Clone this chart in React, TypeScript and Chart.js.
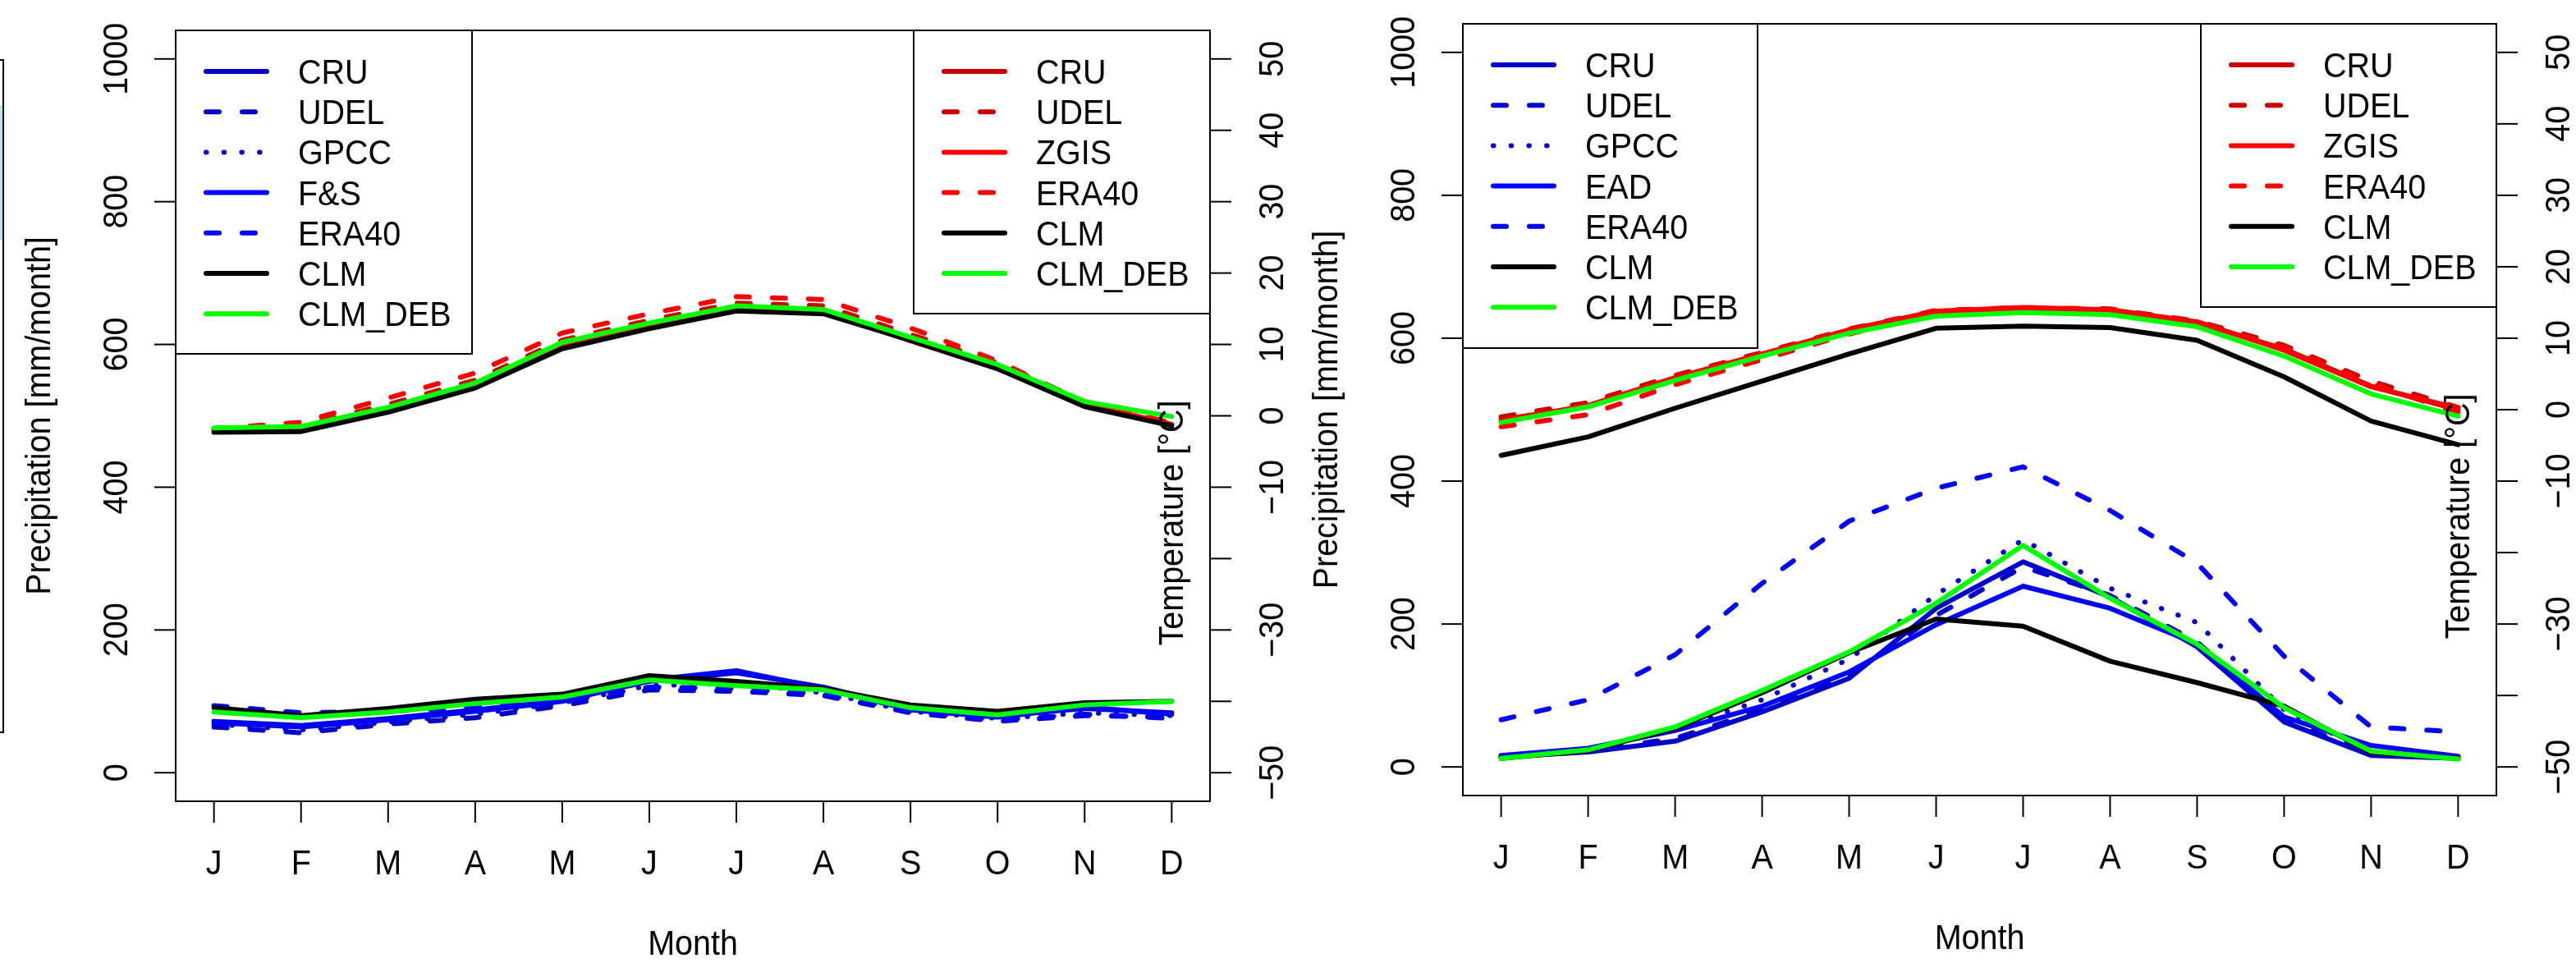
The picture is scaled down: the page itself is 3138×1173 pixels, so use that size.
import { useEffect, useRef } from 'react';
import { Chart, registerables } from 'chart.js';

Chart.register(...registerables);

// ---------- data ----------
const MONTHS = ['J', 'F', 'M', 'A', 'M', 'J', 'J', 'A', 'S', 'O', 'N', 'D'];
const PRECIP_TICKS = [0, 200, 400, 600, 800, 1000];
const PRECIP_TICK_LABELS = ['0', '200', '400', '600', '800', '1000'];
const TEMP_TICKS = [-50, -40, -30, -20, -10, 0, 10, 20, 30, 40, 50];
const TEMP_TICK_LABELS = ['\u221250', '', '\u221230', '', '\u221210', '0', '10', '20', '30', '40', '50'];

// Left panel: precipitation [mm/month]
const A_PRECIP_CRU = [72, 66, 76, 88, 101, 128, 140, 120, 90, 80, 90, 84];
const A_PRECIP_UDEL = [64, 56, 68, 77, 94, 116, 114, 108, 84, 72, 80, 78];
const A_PRECIP_GPCC = [68, 60, 71, 82, 98, 122, 125, 112, 86, 76, 84, 80];
const A_PRECIP_FS = [70, 64, 74, 86, 100, 130, 143, 118, 88, 78, 92, 82];
const A_PRECIP_ERA40 = [94, 84, 86, 92, 100, 120, 118, 110, 86, 74, 82, 76];
const A_PRECIP_CLM = [91, 80, 90, 103, 110, 136, 128, 118, 95, 86, 98, 100];
const A_PRECIP_CLM_DEB = [85, 77, 85, 97, 106, 130, 122, 116, 91, 81, 95, 100];

// Left panel: temperature [°C]
const A_TEMP_CRU = [-2.0, -1.8, 0.8, 4.2, 9.8, 12.6, 15.1, 14.6, 10.5, 6.6, 1.5, -1.3];
const A_TEMP_UDEL = [-1.8, -1.4, 1.6, 5.0, 10.6, 13.4, 15.8, 15.4, 11.4, 7.4, 2.0, -1.0];
const A_TEMP_ZGIS = [-1.9, -1.6, 1.0, 4.4, 10.0, 12.8, 15.2, 14.7, 10.7, 6.9, 1.7, -1.2];
const A_TEMP_ERA40 = [-1.8, -0.9, 2.5, 6.0, 11.6, 14.3, 16.7, 16.3, 12.3, 7.7, 1.8, -1.0];
const A_TEMP_CLM = [-2.3, -2.2, 0.5, 3.9, 9.4, 12.2, 14.7, 14.3, 10.6, 6.6, 1.3, -1.4];
const A_TEMP_CLM_DEB = [-1.7, -1.5, 1.2, 4.6, 10.3, 13.0, 15.4, 14.9, 11.0, 7.2, 2.0, -0.1];

// Right panel: precipitation [mm/month]
const B_PRECIP_CRU = [14, 21, 36, 77, 124, 222, 287, 238, 168, 63, 16, 12];
const B_PRECIP_UDEL = [15, 22, 40, 80, 128, 212, 280, 240, 175, 66, 18, 13];
const B_PRECIP_GPCC = [14, 25, 52, 94, 151, 241, 318, 250, 202, 80, 20, 12];
const B_PRECIP_EAD = [16, 26, 51, 85, 133, 199, 253, 222, 172, 70, 30, 15];
const B_PRECIP_ERA40 = [66, 94, 157, 257, 344, 390, 420, 359, 285, 155, 56, 49];
const B_PRECIP_CLM = [12, 23, 54, 104, 160, 207, 197, 148, 118, 85, 20, 12];
const B_PRECIP_CLM_DEB = [12, 24, 56, 107, 161, 229, 310, 236, 172, 83, 22, 11];

// Right panel: temperature [°C]
const B_TEMP_CRU = [-1.4, 0.5, 4.3, 7.5, 11.0, 13.7, 14.1, 13.9, 12.2, 8.5, 3.3, 0.0];
const B_TEMP_UDEL = [-1.0, 1.0, 4.8, 8.0, 11.3, 13.9, 14.3, 14.1, 12.4, 9.0, 4.0, 0.3];
const B_TEMP_ZGIS = [-1.6, 0.6, 4.5, 7.8, 11.2, 13.8, 14.3, 14.0, 12.3, 8.3, 3.2, 0.2];
const B_TEMP_ERA40 = [-2.4, -0.7, 3.5, 7.0, 10.6, 13.5, 14.0, 13.7, 12.0, 8.8, 3.6, -0.4];
const B_TEMP_CLM = [-6.4, -3.8, 0.2, 4.0, 7.8, 11.4, 11.7, 11.5, 9.7, 4.6, -1.6, -4.9];
const B_TEMP_CLM_DEB = [-1.8, 0.4, 4.1, 7.5, 10.7, 13.1, 13.6, 13.3, 11.6, 7.5, 2.2, -0.9];

// ---------- styles ----------
const MEDBLUE = '#0000CD';
const BLUE = '#0000FF';
const RED3 = '#CD0000';
const RED = '#FF0000';
const BLACK = '#000000';
const GREEN = '#00FF00';
const SOLID: number[] = [];
const DASH = [16, 28];
const DOT = [0.5, 21.2];
const LW = 6;
const FONT = '"Liberation Sans", Arial, Helvetica, sans-serif';
const FS = 42;
const SX = 0.94;

type Series = { label: string; values: number[]; color: string; dash: number[] };

type Panel = {
  canvasLeft: number;
  pad: { left: number; right: number; top: number; bottom: number };
  precip: Series[];
  temp: Series[];
  precipLegend: { left: number; top: number; w: number; h: number };
  tempLegend: { left: number; top: number; w: number; h: number };
  fragment: boolean;
};

const W = 1569;
const H = 1173;

const PANELS: Panel[] = [
  {
    canvasLeft: 0,
    pad: { left: 214, right: W - 1474, top: 37, bottom: H - 976 },
    precip: [
      { label: 'CRU', values: A_PRECIP_CRU, color: MEDBLUE, dash: SOLID },
      { label: 'UDEL', values: A_PRECIP_UDEL, color: MEDBLUE, dash: DASH },
      { label: 'GPCC', values: A_PRECIP_GPCC, color: MEDBLUE, dash: DOT },
      { label: 'F&S', values: A_PRECIP_FS, color: BLUE, dash: SOLID },
      { label: 'ERA40', values: A_PRECIP_ERA40, color: BLUE, dash: DASH },
      { label: 'CLM', values: A_PRECIP_CLM, color: BLACK, dash: SOLID },
      { label: 'CLM_DEB', values: A_PRECIP_CLM_DEB, color: GREEN, dash: SOLID },
    ],
    temp: [
      { label: 'CRU', values: A_TEMP_CRU, color: RED3, dash: SOLID },
      { label: 'UDEL', values: A_TEMP_UDEL, color: RED3, dash: DASH },
      { label: 'ZGIS', values: A_TEMP_ZGIS, color: RED, dash: SOLID },
      { label: 'ERA40', values: A_TEMP_ERA40, color: RED, dash: DASH },
      { label: 'CLM', values: A_TEMP_CLM, color: BLACK, dash: SOLID },
      { label: 'CLM_DEB', values: A_TEMP_CLM_DEB, color: GREEN, dash: SOLID },
    ],
    precipLegend: { left: 214, top: 37, w: 361, h: 394 },
    tempLegend: { left: 1113, top: 37, w: 361, h: 345 },
    fragment: true,
  },
  {
    canvasLeft: 1569,
    pad: { left: 213, right: W - 1472, top: 29, bottom: H - 969 },
    precip: [
      { label: 'CRU', values: B_PRECIP_CRU, color: MEDBLUE, dash: SOLID },
      { label: 'UDEL', values: B_PRECIP_UDEL, color: MEDBLUE, dash: DASH },
      { label: 'GPCC', values: B_PRECIP_GPCC, color: MEDBLUE, dash: DOT },
      { label: 'EAD', values: B_PRECIP_EAD, color: BLUE, dash: SOLID },
      { label: 'ERA40', values: B_PRECIP_ERA40, color: BLUE, dash: DASH },
      { label: 'CLM', values: B_PRECIP_CLM, color: BLACK, dash: SOLID },
      { label: 'CLM_DEB', values: B_PRECIP_CLM_DEB, color: GREEN, dash: SOLID },
    ],
    temp: [
      { label: 'CRU', values: B_TEMP_CRU, color: RED3, dash: SOLID },
      { label: 'UDEL', values: B_TEMP_UDEL, color: RED3, dash: DASH },
      { label: 'ZGIS', values: B_TEMP_ZGIS, color: RED, dash: SOLID },
      { label: 'ERA40', values: B_TEMP_ERA40, color: RED, dash: DASH },
      { label: 'CLM', values: B_TEMP_CLM, color: BLACK, dash: SOLID },
      { label: 'CLM_DEB', values: B_TEMP_CLM_DEB, color: GREEN, dash: SOLID },
    ],
    precipLegend: { left: 213, top: 29, w: 359, h: 395 },
    tempLegend: { left: 1112, top: 29, w: 360, h: 345 },
    fragment: false,
  },
];

function drawText(
  ctx: CanvasRenderingContext2D,
  s: string,
  x: number,
  y: number,
  rot = 0,
  align: CanvasTextAlign = 'center',
  size = FS,
) {
  ctx.save();
  ctx.translate(x, y);
  if (rot) ctx.rotate(rot);
  ctx.scale(SX, 1);
  ctx.font = `${size}px ${FONT}`;
  ctx.textAlign = align;
  ctx.textBaseline = 'alphabetic';
  ctx.fillStyle = '#000';
  ctx.fillText(s, 0, size * 0.358);
  ctx.restore();
}

function drawLegend(
  ctx: CanvasRenderingContext2D,
  box: { left: number; top: number; w: number; h: number },
  items: Series[],
) {
  ctx.save();
  ctx.fillStyle = '#fff';
  ctx.fillRect(box.left, box.top, box.w, box.h);
  ctx.strokeStyle = '#000';
  ctx.lineWidth = 2;
  ctx.setLineDash([]);
  ctx.strokeRect(box.left, box.top, box.w, box.h);
  items.forEach((it, k) => {
    const y = box.top + 50 + 49.2 * k;
    ctx.beginPath();
    ctx.strokeStyle = it.color;
    ctx.lineWidth = LW;
    ctx.lineCap = 'round';
    ctx.setLineDash(it.dash);
    ctx.moveTo(box.left + 37, y);
    ctx.lineTo(box.left + 111, y);
    ctx.stroke();
    ctx.setLineDash([]);
    drawText(ctx, it.label, box.left + 149, y, 0, 'left');
  });
  ctx.restore();
}

function makeFramePlugin(p: Panel) {
  return {
    id: 'rframe',
    afterDraw(chart: any) {
      const ctx: CanvasRenderingContext2D = chart.ctx;
      const a = chart.chartArea;
      const xs = chart.scales.x;
      const ys = chart.scales.y;
      const y2 = chart.scales.y2;
      ctx.save();
      ctx.strokeStyle = '#000';
      ctx.lineWidth = 2;
      ctx.setLineDash([]);
      ctx.lineCap = 'butt';
      // box
      ctx.strokeRect(a.left, a.top, a.right - a.left, a.bottom - a.top);
      // x ticks
      MONTHS.forEach((m, i) => {
        const x = xs.getPixelForValue(i);
        ctx.beginPath();
        ctx.moveTo(x, a.bottom);
        ctx.lineTo(x, a.bottom + 26);
        ctx.stroke();
        drawText(ctx, m, x, a.bottom + 74);
      });
      // left ticks
      PRECIP_TICKS.forEach((v, i) => {
        const y = ys.getPixelForValue(v);
        ctx.beginPath();
        ctx.moveTo(a.left - 26, y);
        ctx.lineTo(a.left, y);
        ctx.stroke();
        drawText(ctx, PRECIP_TICK_LABELS[i], a.left - 74, y, -Math.PI / 2);
      });
      // right ticks
      TEMP_TICKS.forEach((v, i) => {
        const y = y2.getPixelForValue(v);
        ctx.beginPath();
        ctx.moveTo(a.right, y);
        ctx.lineTo(a.right + 26, y);
        ctx.stroke();
        if (TEMP_TICK_LABELS[i]) drawText(ctx, TEMP_TICK_LABELS[i], a.right + 74, y, -Math.PI / 2);
      });
      // titles
      drawText(ctx, 'Precipitation [mm/month]', a.left - 168, (a.top + a.bottom) / 2, -Math.PI / 2);
      drawText(ctx, 'Temperature [\u00B0C]', a.right - 48, a.top + 600, -Math.PI / 2);
      drawText(ctx, 'Month', (a.left + a.right) / 2, a.bottom + 172);
      // legends
      drawLegend(ctx, p.precipLegend, p.precip);
      drawLegend(ctx, p.tempLegend, p.temp);
      // fragment of neighbouring figure at far left
      if (p.fragment) {
        ctx.fillStyle = '#B9E3F3';
        ctx.fillRect(0, 128, 4, 164);
        ctx.strokeStyle = '#000';
        ctx.lineWidth = 2;
        ctx.beginPath();
        ctx.moveTo(0, 73);
        ctx.lineTo(4, 73);
        ctx.lineTo(4, 892);
        ctx.lineTo(0, 892);
        ctx.stroke();
      }
      ctx.restore();
    },
  };
}

function PanelChart({ p }: { p: Panel }) {
  const ref = useRef<HTMLCanvasElement | null>(null);
  useEffect(() => {
    if (!ref.current) return;
    const all = [
      ...p.precip.map((s) => ({ s, axis: 'y' })),
      ...p.temp.map((s) => ({ s, axis: 'y2' })),
    ];
    const n = all.length;
    const datasets = all.map(({ s, axis }, i) => ({
      label: s.label,
      data: s.values.map((v, k) => ({ x: k, y: v })),
      yAxisID: axis,
      borderColor: s.color,
      backgroundColor: s.color,
      borderWidth: LW,
      borderDash: s.dash,
      borderCapStyle: 'round' as const,
      borderJoinStyle: 'round' as const,
      pointRadius: 0,
      fill: false,
      tension: 0,
      order: n - i,
    }));
    const chart = new Chart(ref.current, {
      type: 'line',
      data: { datasets },
      options: {
        responsive: false,
        animation: false,
        devicePixelRatio: 1,
        layout: { padding: p.pad },
        plugins: { legend: { display: false }, tooltip: { enabled: false } },
        scales: {
          x: { type: 'linear', min: -0.44, max: 11.44, display: false },
          y: { type: 'linear', min: -40, max: 1040, display: false },
          y2: { type: 'linear', min: -54, max: 54, display: false, position: 'right' },
        },
      },
      plugins: [makeFramePlugin(p)],
    } as any);
    return () => chart.destroy();
  }, [p]);
  return (
    <canvas
      ref={ref}
      width={W}
      height={H}
      style={{ position: 'absolute', left: p.canvasLeft, top: 0, width: W, height: H }}
    />
  );
}

export default function App() {
  return (
    <div style={{ position: 'absolute', left: 0, top: 0, width: 3138, height: 1173, background: '#fff' }}>
      {PANELS.map((p, i) => (
        <PanelChart key={i} p={p} />
      ))}
    </div>
  );
}
